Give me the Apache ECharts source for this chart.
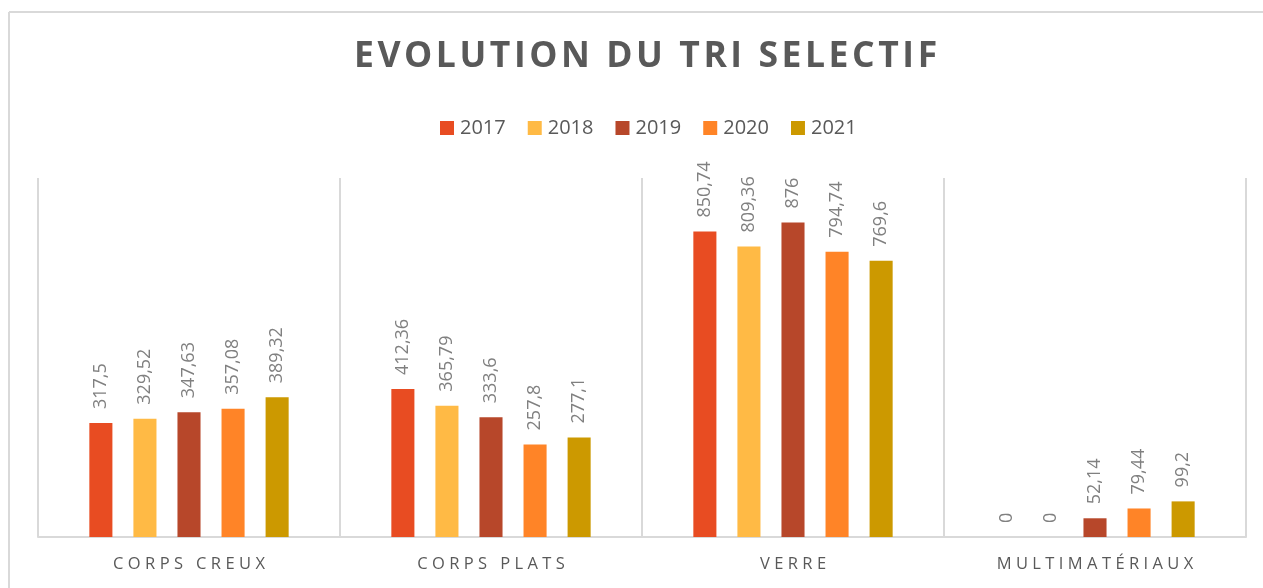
<!DOCTYPE html>
<html>
<head>
<meta charset="utf-8">
<script src="https://cdn.jsdelivr.net/npm/echarts@6/dist/echarts.min.js"></script>
<style>
    html, body { margin: 0; padding: 0; background: #fff; }
    #main { width: 1263px; height: 588px; }
</style>
</head>
<body>
<div id="main"></div>
<script>
var categories = ['CORPS CREUX', 'CORPS PLATS', 'VERRE', 'MULTIMATÉRIAUX'];
var years = ['2017', '2018', '2019', '2020', '2021'];
var values2017 = [317.5, 412.36, 850.74, 0];
var values2018 = [329.52, 365.79, 809.36, 0];
var values2019 = [347.63, 333.6, 876, 52.14];
var values2020 = [357.08, 257.8, 794.74, 79.44];
var values2021 = [389.32, 277.1, 769.6, 99.2];
var colors = ['#E84C22', '#FFBA45', '#B7472A', '#FF8427', '#CC9900'];

var allValues = [values2017, values2018, values2019, values2020, values2021];
var font = '"Open Sans", "DejaVu Sans", sans-serif';

// letter spacing, done with thin / hair spaces since canvas text has none
var spaced = function (s, gap) {
    return s.split('').join(gap);
};

var chart = echarts.init(document.getElementById('main'));

var series = years.map(function (y, i) {
    return {
        name: y,
        type: 'bar',
        data: allValues[i],
        barGap: '91%',
        barCategoryGap: '34%',
        itemStyle: { color: colors[i] },
        label: {
            show: true,
            position: 'top',
            rotate: 90,
            align: 'left',
            verticalAlign: 'middle',
            distance: 14,
            color: '#808080',
            fontSize: 18,
            fontFamily: font,
            formatter: function (p) {
                return String(p.value).replace('.', ',');
            }
        }
    };
});

chart.setOption({
    animation: false,
    color: colors,
    title: {
        text: spaced('EVOLUTION DU TRI SELECTIF', '\u200A'),
        left: 349,
        top: 34,
        textStyle: {
            color: '#595959',
            fontSize: 35.5,
            fontWeight: 'bold',
            fontFamily: font
        }
    },
    legend: {
        top: 113,
        left: 435,
        itemWidth: 14,
        itemHeight: 14,
        itemGap: 22,
        icon: 'rect',
        textStyle: { color: '#595959', fontSize: 20, fontFamily: font, padding: [0, 0, 0, 1] },
        data: years
    },
    grid: { left: 38, right: 17, top: 178, bottom: 51, containLabel: false },
    xAxis: {
        type: 'category',
        data: categories,
        axisLine: { lineStyle: { color: '#d9d9d9', width: 2 } },
        axisTick: { show: false },
        splitLine: { show: true, lineStyle: { color: '#d9d9d9', width: 2 } },
        axisLabel: {
            color: '#595959',
            fontSize: 16.5,
            fontFamily: font,
            margin: 19,
            formatter: function (v) {
                return spaced(v, '\u2009\u200A');
            }
        }
    },
    yAxis: {
        type: 'value',
        min: 0,
        max: 1000,
        show: false,
        splitLine: { show: false }
    },
    graphic: [
        { type: 'line', shape: { x1: 9, y1: 12, x2: 1263, y2: 12 }, style: { stroke: '#d9d9d9', lineWidth: 2 } },
        { type: 'line', shape: { x1: 9, y1: 12, x2: 9, y2: 588 }, style: { stroke: '#d9d9d9', lineWidth: 2 } }
    ],
    series: series
});
</script>
</body>
</html>
